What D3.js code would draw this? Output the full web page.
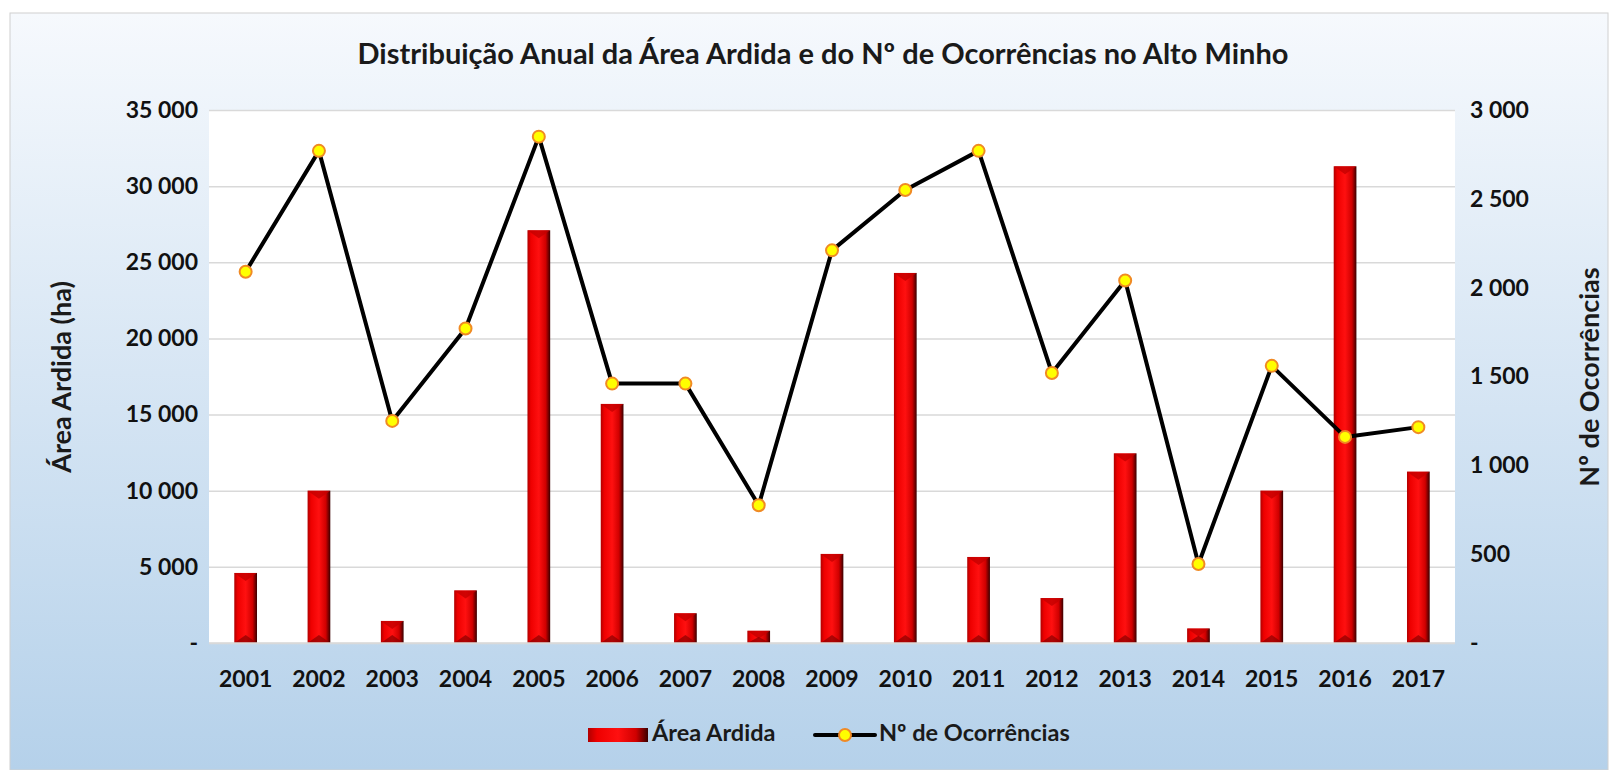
<!DOCTYPE html>
<html>
<head>
<meta charset="utf-8">
<script src="https://cdn.jsdelivr.net/npm/d3@7"></script>
<style>
  body { margin: 0; background: #fff; }
  svg { display: block; font-family: Lato, "Open Sans", sans-serif; }
</style>
</head>
<body>
<svg id="chart" width="1618" height="770"></svg>
<script>
const width = 1618;
const height = 770;

// Données
const years = ["2001", "2002", "2003", "2004", "2005", "2006", "2007", "2008", "2009",
  "2010", "2011", "2012", "2013", "2014", "2015", "2016", "2017"];
const areaArdida = [4600, 10000, 1450, 3450, 27100, 15700, 1950, 800, 5850,
  24300, 5650, 2950, 12450, 950, 10000, 31300, 11250];
const ocorrencias = [2090, 2770, 1250, 1770, 2850, 1460, 1460, 775, 2210,
  2550, 2770, 1520, 2040, 445, 1560, 1160, 1215];
const leftTicks = [0, 5000, 10000, 15000, 20000, 25000, 30000, 35000];
const rightTicks = [0, 500, 1000, 1500, 2000, 2500, 3000];

const margin = { top: 110, right: 163, bottom: 127, left: 209 };
const plotW = width - margin.left - margin.right;
const plotH = height - margin.top - margin.bottom;

const svg = d3.select("#chart");
const defs = svg.append("defs");

// Fond dégradé
const bg = defs.append("linearGradient").attr("id", "bg")
  .attr("x1", 0).attr("y1", 0).attr("x2", 0).attr("y2", 1);
bg.append("stop").attr("offset", "0%").attr("stop-color", "#f6f9fd");
bg.append("stop").attr("offset", "100%").attr("stop-color", "#b5d1ea");

// Dégradé des barres (effet biseauté)
const barGrad = defs.append("linearGradient").attr("id", "barGrad")
  .attr("x1", 0).attr("y1", 0).attr("x2", 1).attr("y2", 0);
barGrad.append("stop").attr("offset", "0%").attr("stop-color", "#b00000");
barGrad.append("stop").attr("offset", "15%").attr("stop-color", "#ee0000");
barGrad.append("stop").attr("offset", "50%").attr("stop-color", "#ff1010");
barGrad.append("stop").attr("offset", "80%").attr("stop-color", "#d00000");
barGrad.append("stop").attr("offset", "100%").attr("stop-color", "#3a0000");

svg.append("rect")
  .attr("x", 10).attr("y", 13)
  .attr("width", width - 20).attr("height", height - 13)
  .attr("fill", "url(#bg)")
  .attr("stroke", "#d0d0d0");

svg.append("text")
  .attr("x", 823).attr("y", 57)
  .attr("text-anchor", "middle")
  .attr("dominant-baseline", "middle")
  .attr("font-size", 29).attr("font-weight", "bold").attr("fill", "#1a1a1a")
  .text("Distribuição Anual da Área Ardida e do Nº de Ocorrências no Alto Minho");

const g = svg.append("g").attr("transform", `translate(${margin.left},${margin.top})`);

const x = d3.scaleBand().domain(years).range([0, plotW]).padding(0);
const yLeft = d3.scaleLinear().domain([0, 35000]).range([plotH, 0]);
const yRight = d3.scaleLinear().domain([0, 3000]).range([plotH, 0]);

const fmt = v => v === 0 ? "-" : d3.format(",")(v).replace(/,/g, " ");

g.append("rect").attr("width", plotW).attr("height", plotH).attr("fill", "#fff");

// Grille
g.append("g")
  .call(d3.axisLeft(yLeft).tickValues(leftTicks).tickSize(-plotW).tickFormat(""))
  .call(a => a.select(".domain").remove())
  .call(a => a.selectAll("line").attr("stroke", "#d9d9d9").attr("stroke-width", 1.5));

// Barres
const barW = x.bandwidth() * 0.31;
const bars = g.append("g").selectAll("g")
  .data(years.map((y, i) => ({ year: y, value: areaArdida[i] })))
  .enter().append("g")
  .attr("transform", d => `translate(${x(d.year) + x.bandwidth() / 2 - barW / 2},${yLeft(d.value)})`);

bars.append("rect")
  .attr("width", barW)
  .attr("height", d => plotH - yLeft(d.value))
  .attr("fill", "url(#barGrad)");

bars.append("path")
  .attr("d", `M0,0 L${barW},0 L${barW / 2},${Math.min(8, barW / 2)} Z`)
  .attr("fill", "#c40000").attr("opacity", 0.8);

bars.append("path")
  .attr("d", d => {
    const h = plotH - yLeft(d.value);
    return `M0,${h} L${barW},${h} L${barW / 2},${h - Math.min(8, h / 2)} Z`;
  })
  .attr("fill", "#8a0000").attr("opacity", 0.7);

// Ligne des occurrences
const line = d3.line()
  .x((d, i) => x(years[i]) + x.bandwidth() / 2)
  .y(d => yRight(d));

g.append("path")
  .datum(ocorrencias)
  .attr("d", line)
  .attr("fill", "none")
  .attr("stroke", "#000")
  .attr("stroke-width", 4)
  .attr("stroke-linejoin", "round");

g.append("g").selectAll("circle")
  .data(ocorrencias)
  .enter().append("circle")
  .attr("cx", (d, i) => x(years[i]) + x.bandwidth() / 2)
  .attr("cy", d => yRight(d))
  .attr("r", 6)
  .attr("fill", "#ffff00")
  .attr("stroke", "#f08a24")
  .attr("stroke-width", 2);

// Axes
const styleAxis = a => {
  a.select(".domain").remove();
  a.selectAll(".tick line").remove();
  a.selectAll("text").attr("font-size", 23).attr("font-weight", "bold")
    .attr("fill", "#111").attr("font-family", "Lato, sans-serif");
};

g.append("g")
  .call(d3.axisLeft(yLeft).tickValues(leftTicks).tickFormat(fmt).tickPadding(5))
  .call(styleAxis);

g.append("g")
  .attr("transform", `translate(${plotW},0)`)
  .call(d3.axisRight(yRight).tickValues(rightTicks).tickFormat(fmt).tickPadding(9))
  .call(styleAxis);

g.append("g")
  .attr("transform", `translate(0,${plotH})`)
  .call(d3.axisBottom(x).tickPadding(22))
  .call(styleAxis);

g.append("line")
  .attr("x1", 0).attr("x2", plotW).attr("y1", plotH).attr("y2", plotH)
  .attr("stroke", "#d9d9d9").attr("stroke-width", 1.5);

// Titres des axes
svg.append("text")
  .attr("transform", "translate(64,377) rotate(-90)")
  .attr("text-anchor", "middle").attr("dominant-baseline", "middle")
  .attr("font-size", 27).attr("font-weight", "bold").attr("fill", "#1a1a1a")
  .text("Área Ardida (ha)");

svg.append("text")
  .attr("transform", "translate(1592,377) rotate(-90)")
  .attr("text-anchor", "middle").attr("dominant-baseline", "middle")
  .attr("font-size", 27).attr("font-weight", "bold").attr("fill", "#1a1a1a")
  .text("Nº de Ocorrências");

// Légende
const legend = svg.append("g").attr("transform", "translate(0,735)");
legend.append("rect")
  .attr("x", 588).attr("y", -7).attr("width", 60).attr("height", 14)
  .attr("fill", "url(#barGrad)");
legend.append("text")
  .attr("x", 652).attr("y", 0).attr("dominant-baseline", "middle")
  .attr("font-size", 23.5).attr("font-weight", "bold").attr("fill", "#1a1a1a")
  .text("Área Ardida");
legend.append("line")
  .attr("x1", 815).attr("x2", 875).attr("y1", 0).attr("y2", 0)
  .attr("stroke", "#000").attr("stroke-width", 4).attr("stroke-linecap", "round");
legend.append("circle")
  .attr("cx", 845).attr("cy", 0).attr("r", 6)
  .attr("fill", "#ffff00").attr("stroke", "#f08a24").attr("stroke-width", 2);
legend.append("text")
  .attr("x", 879).attr("y", 0).attr("dominant-baseline", "middle")
  .attr("font-size", 23.5).attr("font-weight", "bold").attr("fill", "#1a1a1a")
  .text("Nº de Ocorrências");
</script>
</body>
</html>
